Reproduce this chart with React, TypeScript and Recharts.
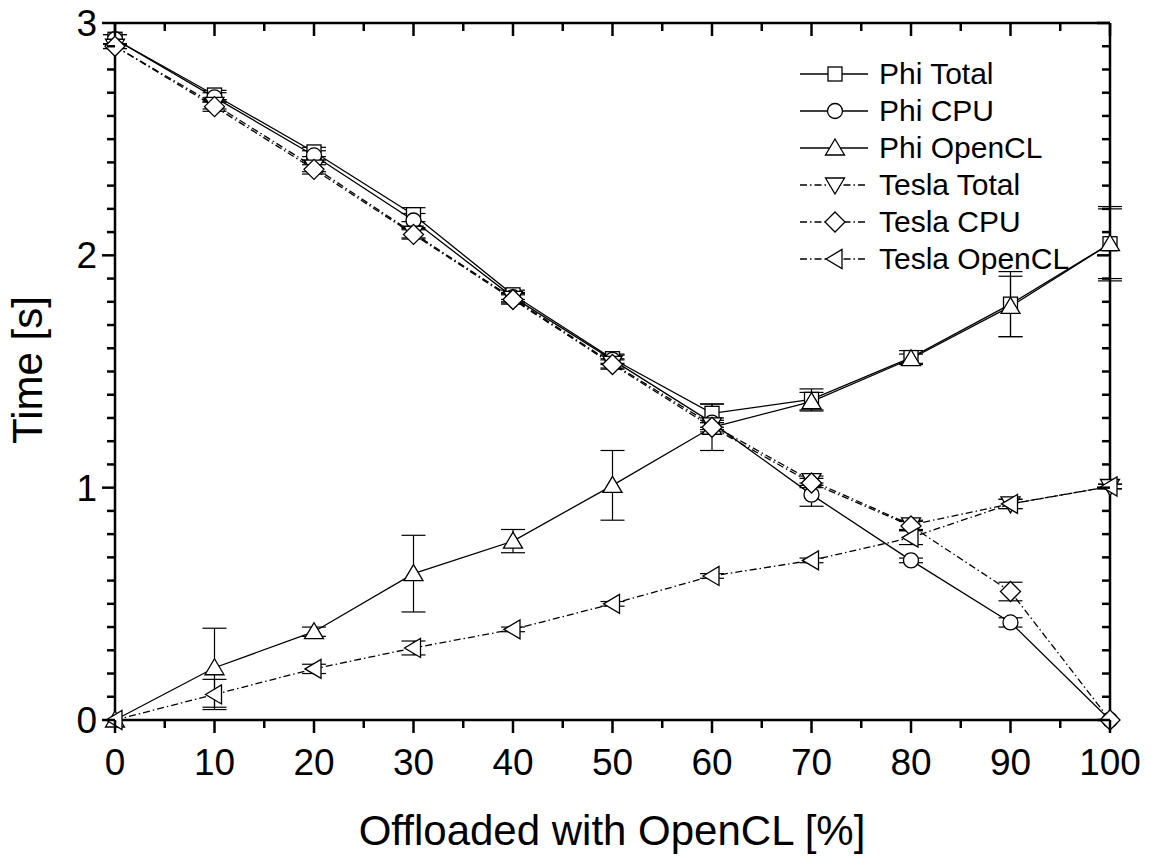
import React from 'react';
import { LineChart, Line, XAxis, YAxis, ErrorBar, Legend, ReferenceLine } from 'recharts';

const FONT = '"Liberation Sans", Arial, Helvetica, sans-serif';

// offloaded share [%]
const OFFLOAD = [0, 10, 20, 30, 40, 50, 60, 70, 80, 90, 100];

const PHI_TOTAL = [2.93, 2.69, 2.445, 2.175, 1.83, 1.555, 1.32, 1.38, 1.56, 1.79, 2.05];
const PHI_TOTAL_ERR = [0.02, 0.02, 0.02, 0.03, 0.02, 0.02, 0.04, 0.045, 0.03, 0.14, 0.16];
const PHI_CPU = [2.93, 2.68, 2.43, 2.15, 1.82, 1.55, 1.28, 0.97, 0.687, 0.42, 0];
const PHI_CPU_ERR = [0.02, 0.02, 0.02, 0.03, 0.02, 0.02, 0.02, 0.05, 0.01, 0.02, 0];
const PHI_OPENCL = [0, 0.225, 0.38, 0.63, 0.77, 1.01, 1.26, 1.37, 1.555, 1.78, 2.05];
const PHI_OPENCL_ERR = [0, 0.17, 0.02, 0.165, 0.05, 0.15, 0.1, 0.04, 0.02, 0.13, 0.15];
const TESLA_TOTAL = [2.9, 2.65, 2.38, 2.095, 1.815, 1.535, 1.27, 1.03, 0.84, 0.93, 1.005];
const TESLA_TOTAL_ERR = [0.01, 0.02, 0.02, 0.02, 0.02, 0.02, 0.02, 0.02, 0.02, 0.02, 0.01];
const TESLA_CPU = [2.9, 2.64, 2.37, 2.09, 1.81, 1.53, 1.26, 1.02, 0.835, 0.553, 0];
const TESLA_CPU_ERR = [0.01, 0.02, 0.02, 0.02, 0.02, 0.02, 0.02, 0.02, 0.02, 0.04, 0];
const TESLA_OPENCL = [0, 0.11, 0.22, 0.31, 0.39, 0.5, 0.62, 0.687, 0.785, 0.93, 1.005];
const TESLA_OPENCL_ERR = [0, 0.065, 0.02, 0.03, 0.01, 0.01, 0.01, 0.01, 0.03, 0.02, 0.01];

const X_TICKS = [0, 5, 10, 15, 20, 25, 30, 35, 40, 45, 50, 55, 60, 65, 70, 75, 80, 85, 90, 95, 100];
const Y_TICKS = Array.from({ length: 31 }, (_, i) => i / 10);

const data = OFFLOAD.map((x, i) => ({
  x,
  phiTotal: PHI_TOTAL[i], phiTotalErr: PHI_TOTAL_ERR[i],
  phiCpu: PHI_CPU[i], phiCpuErr: PHI_CPU_ERR[i],
  phiOpencl: PHI_OPENCL[i], phiOpenclErr: PHI_OPENCL_ERR[i],
  teslaTotal: TESLA_TOTAL[i], teslaTotalErr: TESLA_TOTAL_ERR[i],
  teslaCpu: TESLA_CPU[i], teslaCpuErr: TESLA_CPU_ERR[i],
  teslaOpencl: TESLA_OPENCL[i], teslaOpenclErr: TESLA_OPENCL_ERR[i],
}));

const DASH = '7 3 1.5 3';

const SERIES = [
  { key: 'phiTotal', name: 'Phi Total', shape: 'square', dash: undefined },
  { key: 'phiCpu', name: 'Phi CPU', shape: 'circle', dash: undefined },
  { key: 'phiOpencl', name: 'Phi OpenCL', shape: 'up', dash: undefined },
  { key: 'teslaTotal', name: 'Tesla Total', shape: 'down', dash: DASH },
  { key: 'teslaCpu', name: 'Tesla CPU', shape: 'diamond', dash: DASH },
  { key: 'teslaOpencl', name: 'Tesla OpenCL', shape: 'left', dash: DASH },
];

// chart box
const W = 1157;
const H = 859;
const MARGIN = { top: 23, right: 47, bottom: 79, left: 55 };
const X_AXIS_H = 60;
const Y_AXIS_W = 60;
const PLOT_W = W - MARGIN.left - MARGIN.right - Y_AXIS_W;
const PLOT_H = H - MARGIN.top - MARGIN.bottom - X_AXIS_H;

function Marker({ shape, cx, cy }: { shape: string; cx: number; cy: number }) {
  const p = { fill: '#fff', stroke: '#000', strokeWidth: 1.3 };
  switch (shape) {
    case 'square':
      return <rect x={cx - 7} y={cy - 7} width={14} height={14} {...p} />;
    case 'circle':
      return <circle cx={cx} cy={cy} r={7.5} {...p} />;
    case 'up':
      return <polygon points={`${cx},${cy - 9} ${cx + 9.5},${cy + 7} ${cx - 9.5},${cy + 7}`} {...p} />;
    case 'down':
      return <polygon points={`${cx - 9.5},${cy - 7} ${cx + 9.5},${cy - 7} ${cx},${cy + 9}`} {...p} />;
    case 'diamond':
      return <polygon points={`${cx},${cy - 10} ${cx + 10},${cy} ${cx},${cy + 10} ${cx - 10},${cy}`} {...p} />;
    default:
      return <polygon points={`${cx - 9},${cy} ${cx + 7},${cy - 9.5} ${cx + 7},${cy + 9.5}`} {...p} />;
  }
}

const isMajor = (v: number) => Math.abs(v - Math.round(v)) < 1e-6;

// bottom ticks, plus the inward mirror ticks on the top frame
function BottomTick({ x, y, payload }: any) {
  const major = payload.value % 10 === 0;
  const len = major ? 13 : 8;
  const top = y - PLOT_H;
  return (
    <g>
      <line x1={x} y1={y} x2={x} y2={y + len} stroke="#000" strokeWidth={2.5} />
      <line x1={x} y1={top} x2={x} y2={top + len} stroke="#000" strokeWidth={2.5} />
      {major && (
        <text x={x} y={y + 55} textAnchor="middle" fontSize={37} fontFamily={FONT} fill="#000">
          {payload.value}
        </text>
      )}
    </g>
  );
}

// left ticks, plus the inward mirror ticks on the right frame
function LeftTick({ x, y, payload }: any) {
  const major = isMajor(payload.value);
  const len = major ? 13 : 8;
  const right = x + PLOT_W;
  return (
    <g>
      <line x1={x - len} y1={y} x2={x} y2={y} stroke="#000" strokeWidth={2.5} />
      <line x1={right - len} y1={y} x2={right} y2={y} stroke="#000" strokeWidth={2.5} />
      {major && (
        <text x={x - 18} y={y + 13} textAnchor="end" fontSize={37} fontFamily={FONT} fill="#000">
          {Math.round(payload.value)}
        </text>
      )}
    </g>
  );
}

function XTitle() {
  return (
    <text x={612} y={845} textAnchor="middle" fontSize={42} fontFamily={FONT} fill="#000">
      Offloaded with OpenCL [%]
    </text>
  );
}

function YTitle() {
  return (
    <text x={42} y={370} transform="rotate(-90 42 370)" textAnchor="middle" fontSize={42} fontFamily={FONT} fill="#000">
      Time [s]
    </text>
  );
}

function LegendBox() {
  return (
    <div style={{ fontFamily: FONT, fontSize: 30, color: '#000' }}>
      {SERIES.map((s) => (
        <div key={s.key} style={{ display: 'flex', alignItems: 'center', height: 37 }}>
          <svg width={70} height={30} style={{ display: 'block' }}>
            <line x1={0} y1={15} x2={68} y2={15} stroke="#000" strokeWidth={1.3} strokeDasharray={s.dash} />
            <Marker shape={s.shape} cx={35} cy={15} />
          </svg>
          <span style={{ marginLeft: 9, whiteSpace: 'nowrap' }}>{s.name}</span>
        </div>
      ))}
    </div>
  );
}

export default function App() {
  return (
    <div style={{ position: 'absolute', left: 0, top: 0, width: W, height: H, background: '#fff' }}>
      <LineChart width={W} height={H} data={data} margin={MARGIN}>
        <XAxis
          xAxisId="bottom" dataKey="x" type="number" domain={[0, 100]} ticks={X_TICKS} interval={0}
          height={X_AXIS_H} tickSize={0} tickMargin={0} tickLine={false} tick={BottomTick}
          axisLine={{ stroke: '#000', strokeWidth: 2.5 }} label={<XTitle />}
        />
        <YAxis
          yAxisId="left" type="number" domain={[0, 3]} ticks={Y_TICKS} interval={0} width={Y_AXIS_W}
          tickSize={0} tickMargin={0} tickLine={false} tick={LeftTick}
          axisLine={{ stroke: '#000', strokeWidth: 2.5 }} label={<YTitle />}
        />
        <ReferenceLine xAxisId="bottom" yAxisId="left" y={3} stroke="#000" strokeWidth={2.5} />
        <ReferenceLine xAxisId="bottom" yAxisId="left" x={100} stroke="#000" strokeWidth={2.5} />
        <Legend
          layout="vertical" align="center" verticalAlign="middle" content={<LegendBox />}
          wrapperStyle={{ left: 800, top: 55, width: 320, height: 230 }}
        />
        {SERIES.map((s) => (
          <Line
            key={s.key}
            xAxisId="bottom"
            yAxisId="left"
            dataKey={s.key}
            name={s.name}
            type="linear"
            stroke="#000"
            strokeWidth={1.3}
            strokeDasharray={s.dash}
            isAnimationActive={false}
            dot={(props: any) => <Marker key={`${s.key}-${props.index}`} shape={s.shape} cx={props.cx} cy={props.cy} />}
            activeDot={false}
          >
            <ErrorBar dataKey={`${s.key}Err`} direction="y" width={12} stroke="#000" strokeWidth={1.2} />
          </Line>
        ))}
      </LineChart>
    </div>
  );
}
